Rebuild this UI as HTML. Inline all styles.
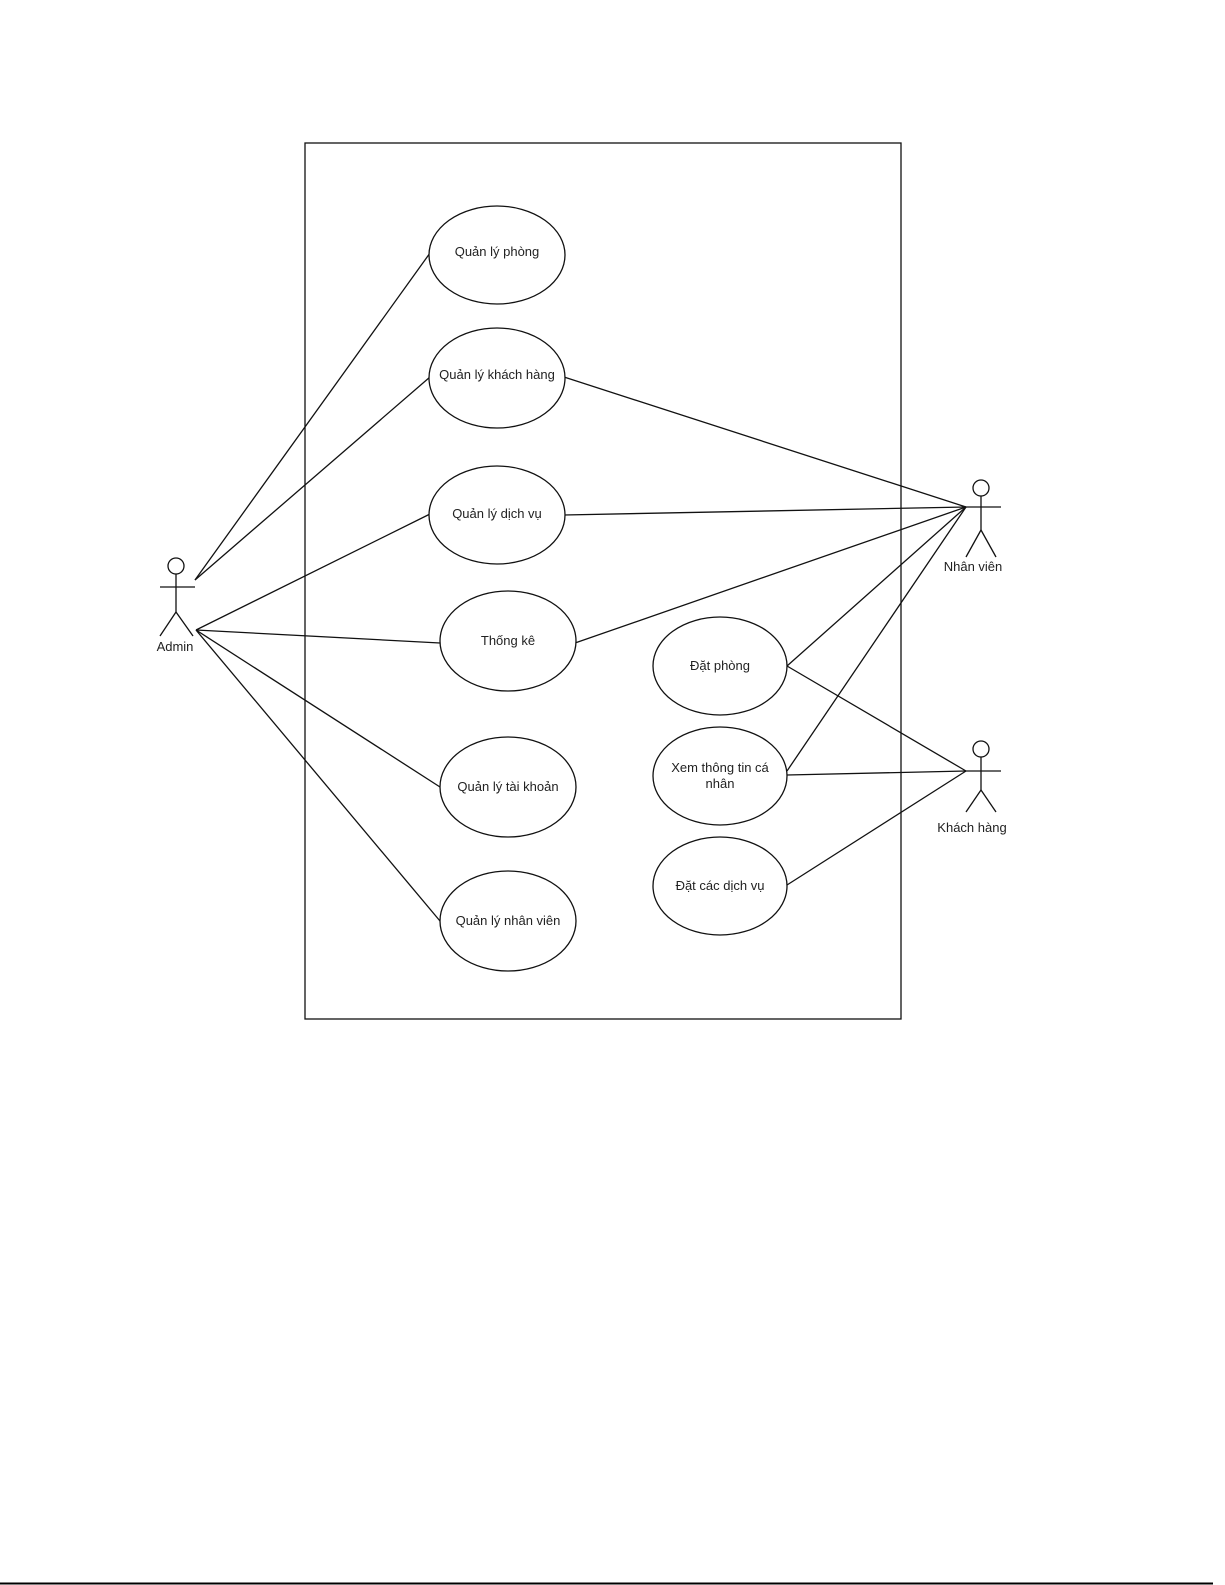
<!DOCTYPE html>
<html><head><meta charset="utf-8"><style>
html,body{margin:0;padding:0;background:#fff;}
svg{display:block;}
text{font-family:"Liberation Sans",sans-serif;font-size:13px;fill:#222;text-anchor:middle;}
</style></head><body>
<svg width="1225" height="1585" viewBox="0 0 1225 1585" xmlns="http://www.w3.org/2000/svg">
<rect x="305" y="143" width="596" height="876" fill="none" stroke="#111" stroke-width="1.3"/>
<g stroke="#111" stroke-width="1.3" fill="none">
<!-- Admin connectors -->
<line x1="195" y1="580" x2="430" y2="253"/>
<line x1="195" y1="580" x2="430" y2="377"/>
<line x1="196" y1="630" x2="430" y2="514"/>
<line x1="196" y1="630" x2="440" y2="643"/>
<line x1="196" y1="630" x2="440" y2="787"/>
<line x1="196" y1="630" x2="440" y2="921"/>
<!-- Nhan vien connectors -->
<line x1="966" y1="507" x2="564" y2="377"/>
<line x1="966" y1="507" x2="564" y2="515"/>
<line x1="966" y1="507" x2="575" y2="643"/>
<line x1="966" y1="507" x2="787" y2="666"/>
<line x1="966" y1="507" x2="787" y2="771"/>
<!-- Khach hang connectors -->
<line x1="966" y1="771" x2="787" y2="666"/>
<line x1="966" y1="771" x2="787" y2="775"/>
<line x1="966" y1="771" x2="787" y2="885"/>
</g>
<g stroke="#111" stroke-width="1.3" fill="#fff">
<ellipse cx="497" cy="255" rx="68" ry="49"/>
<ellipse cx="497" cy="378" rx="68" ry="50"/>
<ellipse cx="497" cy="515" rx="68" ry="49"/>
<ellipse cx="508" cy="641" rx="68" ry="50"/>
<ellipse cx="508" cy="787" rx="68" ry="50"/>
<ellipse cx="508" cy="921" rx="68" ry="50"/>
<ellipse cx="720" cy="666" rx="67" ry="49"/>
<ellipse cx="720" cy="776" rx="67" ry="49"/>
<ellipse cx="720" cy="886" rx="67" ry="49"/>
</g>
<text x="497" y="256">Quản lý phòng</text>
<text x="497" y="379">Quản lý khách hàng</text>
<text x="497" y="518">Quản lý dịch vụ</text>
<text x="508" y="645">Thống kê</text>
<text x="508" y="791">Quản lý tài khoản</text>
<text x="508" y="925">Quản lý nhân viên</text>
<text x="720" y="670">Đặt phòng</text>
<text x="720" y="772">Xem thông tin cá</text>
<text x="720" y="788">nhân</text>
<text x="720" y="890">Đặt các dịch vụ</text>
<!-- Actors -->
<g stroke="#111" stroke-width="1.3" fill="#fff">
<circle cx="176" cy="566" r="8"/>
<line x1="176" y1="574" x2="176" y2="612" />
<line x1="160" y1="587" x2="195" y2="587"/>
<line x1="176" y1="612" x2="160" y2="636"/>
<line x1="176" y1="612" x2="193" y2="636"/>
<circle cx="981" cy="488" r="8"/>
<line x1="981" y1="496" x2="981" y2="530"/>
<line x1="965" y1="507" x2="1001" y2="507"/>
<line x1="981" y1="530" x2="966" y2="557"/>
<line x1="981" y1="530" x2="996" y2="557"/>
<circle cx="981" cy="749" r="8"/>
<line x1="981" y1="757" x2="981" y2="790"/>
<line x1="965" y1="771" x2="1001" y2="771"/>
<line x1="981" y1="790" x2="966" y2="812"/>
<line x1="981" y1="790" x2="996" y2="812"/>
</g>
<text x="175" y="651">Admin</text>
<text x="973" y="571">Nhân viên</text>
<text x="972" y="832">Khách hàng</text>
<line x1="0" y1="1583.5" x2="1213" y2="1583.5" stroke="#000" stroke-width="2"/>
</svg>
</body></html>
